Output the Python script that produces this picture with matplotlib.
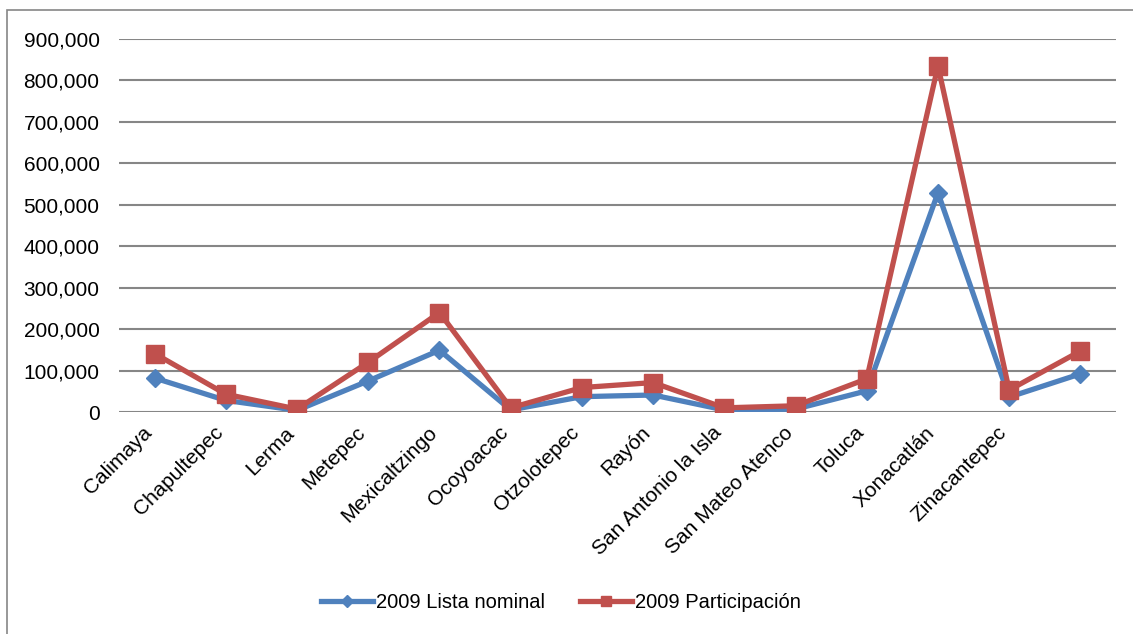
import matplotlib.pyplot as plt
from matplotlib.patches import Rectangle
from matplotlib.ticker import FuncFormatter
from matplotlib.transforms import ScaledTranslation

plt.rcParams['font.family'] = ['Liberation Sans', 'DejaVu Sans']

# municipios (the last category has no label in the original sheet)
municipios = ['Calimaya', 'Chapultepec', 'Lerma', 'Metepec', 'Mexicaltzingo',
              'Ocoyoacac', 'Otzolotepec', 'Rayón', 'San Antonio la Isla',
              'San Mateo Atenco', 'Toluca', 'Xonacatlán', 'Zinacantepec', '']

lista_nominal = [82000, 28000, 4000, 75000, 149000, 5000, 37000, 41000,
                 5000, 7000, 51000, 529000, 36000, 92000]
participacion = [141000, 43000, 7000, 120000, 240000, 10000, 59000, 71000,
                 10000, 15000, 80000, 835000, 53000, 147000]

azul = '#4F81BD'
rojo = '#C0504D'
gris = '#868686'

fig = plt.figure(figsize=(11.33, 6.34), dpi=100)
ax = fig.add_axes([119 / 1133, 1 - 412 / 634, (1116 - 119) / 1133, (412 - 39) / 634])

x = list(range(len(municipios)))
ax.plot(x, lista_nominal, color=azul, lw=3.8, marker='D', ms=9.5,
        mec=azul, mfc=azul, label='2009 Lista nominal', zorder=3)
ax.plot(x, participacion, color=rojo, lw=3.8, marker='s', ms=13,
        mec=rojo, mfc=rojo, label='2009 Participación', zorder=4)

ax.set_xlim(-0.5, len(municipios) - 0.5)
ax.set_ylim(0, 900000)
ax.set_yticks(range(0, 900001, 100000))
ax.yaxis.set_major_formatter(FuncFormatter(lambda v, p: f'{int(v):,}'))
ax.grid(axis='y', color=gris, lw=1.5)
ax.set_axisbelow(True)
for s in ax.spines.values():
    s.set_visible(False)
ax.tick_params(axis='y', length=0, pad=14, labelsize=15)
ax.tick_params(axis='x', length=0, pad=8, labelsize=15)
ax.set_xticks(x)
ax.set_xticklabels(municipios, rotation=45, ha='right', va='top',
                   rotation_mode='anchor')
shift = ScaledTranslation(-9 / 72, 0, fig.dpi_scale_trans)
for lbl in ax.get_xticklabels():
    lbl.set_transform(lbl.get_transform() + shift)

# outer chart border (right/bottom fall off the image)
fig.patches.append(Rectangle((7 / 1133, -0.1), 1.1, 1.1 - 10 / 634,
                             transform=fig.transFigure, fill=False,
                             ec=gris, lw=1.2))

fig.legend(loc='center', bbox_to_anchor=(561 / 1133, 1 - 603 / 634), ncol=2,
           frameon=False, fontsize=14.5, handlelength=2.6, handletextpad=0.15,
           columnspacing=1.7, markerscale=0.6)

fig.savefig('out.png', dpi=100)
